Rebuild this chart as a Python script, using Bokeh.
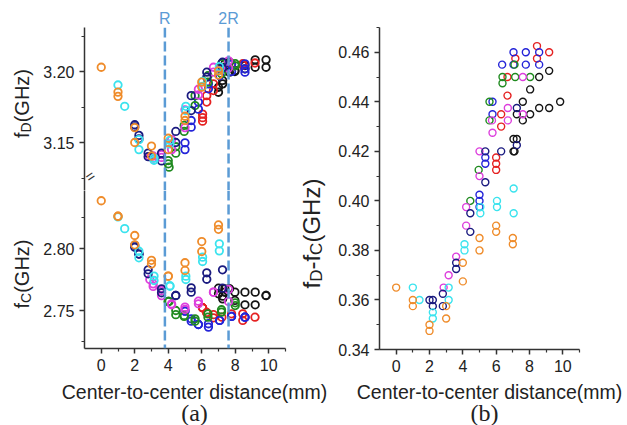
import math
from bokeh.plotting import figure
from bokeh.models import Range1d, FixedTicker, NumeralTickFormatter, Span, Label, ColumnDataSource
from bokeh.layouts import row, column
from bokeh.embed import file_html
from bokeh.resources import INLINE

# ---------------- data ----------------
# panel (a): distance (mm), f_D (GHz), f_C (GHz); panel (b): distance (mm), f_D - f_C (GHz)
orange_x = [0, 1, 1, 2, 2, 3, 3, 4, 4, 5, 5, 6, 6, 7, 7]
orange_fd = [3.203, 3.1855, 3.1825, 3.1605, 3.150, 3.1475, 3.1405, 3.153, 3.145, 3.1685, 3.1655, 3.1925, 3.189, 3.2005, 3.1975]
orange_fc = [2.8385, 2.826, 2.826, 2.8105, 2.803, 2.7905, 2.7875, 2.7777, 2.7777, 2.7885, 2.7823, 2.8056, 2.7976, 2.819, 2.8155]
orange_bx = [0, 1, 1, 2, 2, 3, 3, 4, 4, 5, 5, 6, 6, 7, 7]
orange_bv = [0.365, 0.36, 0.3575, 0.35, 0.3475, 0.3575, 0.3525, 0.375, 0.3675, 0.385, 0.38, 0.39, 0.3875, 0.385, 0.3825]

cyan_x = [1.0, 1.4, 2.25, 2.25, 3.15, 3.15, 4.1, 4.1, 5.05, 5.05, 6.05, 6.05, 7.05, 7.05]
cyan_fd = [3.1905, 3.1755, 3.152, 3.145, 3.139, 3.1375, 3.1515, 3.149, 3.1755, 3.1725, 3.193, 3.1895, 3.2035, 3.2005]
cyan_fc = [2.8255, 2.816, 2.7978, 2.7925, 2.7778, 2.7742, 2.770, 2.7695, 2.7777, 2.775, 2.793, 2.7895, 2.8038, 2.7981]
cyan_bx = [1.0, 1.4, 2.2, 2.2, 3.15, 3.15, 4.1, 4.1, 5.05, 5.05, 6.05, 6.05, 7.05, 7.05]
cyan_bv = [0.365, 0.36, 0.355, 0.3525, 0.365, 0.36, 0.3825, 0.38, 0.3975, 0.395, 0.40, 0.3975, 0.405, 0.395]

navy_x = [2.0, 2.0, 2.25, 2.25, 2.8, 2.8, 3.6, 3.6, 4.45, 4.45, 5.37, 5.37, 6.3, 6.3, 7.24, 7.24]
navy_fd = [3.1625, 3.161, 3.155, 3.1525, 3.1425, 3.140, 3.1425, 3.137, 3.1578, 3.150, 3.183, 3.1725, 3.1995, 3.196, 3.2065, 3.2025]
navy_fc = [2.8025, 2.801, 2.7955, 2.7955, 2.7828, 2.7796, 2.7675, 2.7643, 2.7621, 2.7621, 2.7683, 2.7648, 2.7804, 2.7752, 2.7828, 2.768]
navy_bx = [2.0, 2.2, 2.2, 2.8, 2.8, 3.6, 3.6, 4.45, 4.45, 5.35, 5.35, 6.3, 7.24, 7.24]
navy_bv = [0.36, 0.36, 0.3575, 0.3625, 0.3575, 0.375, 0.3725, 0.395, 0.3875, 0.42, 0.4075, 0.42, 0.4375, 0.4225]

magenta_x = [2.9, 3.1, 3.1, 3.6, 3.6, 4.2, 4.2, 5.0, 5.0, 5.8, 5.8, 6.7, 6.7, 7.6, 7.6]
magenta_fd = [3.140, 3.1405, 3.139, 3.1415, 3.1395, 3.152, 3.145, 3.173, 3.1605, 3.1875, 3.1835, 3.203, 3.1995, 3.2075, 3.2025]
magenta_fc = [2.775, 2.7715, 2.7694, 2.766, 2.762, 2.7554, 2.7546, 2.7527, 2.7508, 2.7575, 2.7554, 2.7648, 2.7648, 2.767, 2.7573]
magenta_bx = [2.85, 3.15, 3.6, 4.2, 4.2, 5.0, 5.0, 5.75, 5.78, 6.7, 6.7, 7.6, 7.6]
magenta_bv = [0.365, 0.37, 0.3775, 0.3975, 0.39, 0.42, 0.41, 0.4325, 0.4275, 0.4375, 0.4325, 0.45, 0.435]

green_x = [4.0, 4.0, 4.05, 4.45, 4.45, 4.95, 4.95, 5.6, 5.6, 6.37, 6.37, 7.18, 7.18, 8.0, 8.0]
green_fd = [3.1373, 3.135, 3.1326, 3.1425, 3.147, 3.162, 3.1578, 3.183, 3.176, 3.197, 3.1925, 3.2055, 3.1985, 3.2055, 3.204]
green_fc = [2.7573, 2.7573, 2.7573, 2.75, 2.7466, 2.746, 2.7452, 2.7433, 2.7414, 2.7473, 2.7446, 2.7506, 2.7487, 2.7562, 2.754]
green_bx = [4.45, 4.95, 5.6, 5.6, 6.38, 6.38, 7.1, 7.14, 8.04]
green_bv = [0.40, 0.4125, 0.44, 0.4325, 0.45, 0.4475, 0.455, 0.45, 0.45]

blue_x = [5.0, 5.0, 5.37, 5.37, 5.8, 5.8, 6.4, 6.4, 7.07, 7.07, 7.78, 7.78, 8.58, 8.58, 8.58]
blue_fd = [3.1498, 3.145, 3.1655, 3.1608, 3.1785, 3.1735, 3.1913, 3.1878, 3.202, 3.197, 3.205, 3.200, 3.2054, 3.2019, 3.1995]
blue_fc = [2.7495, 2.7495, 2.7433, 2.7414, 2.7387, 2.7387, 2.7393, 2.7366, 2.742, 2.742, 2.7452, 2.7452, 2.7446, 2.7446, 2.7446]
blue_bx = [5.0, 5.0, 5.0, 5.35, 5.35, 5.78, 5.78, 6.36, 7.04, 7.04, 7.78, 7.78, 8.58, 8.58]
blue_bv = [0.4025, 0.40, 0.3975, 0.4175, 0.415, 0.44, 0.435, 0.455, 0.46, 0.455, 0.46, 0.455, 0.46, 0.455]

red_x = [6.05, 6.05, 6.05, 6.3, 6.3, 6.7, 6.7, 7.2, 7.78, 8.45, 8.45, 9.18]
red_fd = [3.170, 3.1675, 3.165, 3.183, 3.1785, 3.1913, 3.1866, 3.2021, 3.2054, 3.2055, 3.2045, 3.206]
red_fc = [2.7522, 2.7522, 2.7522, 2.748, 2.7484, 2.7466, 2.7441, 2.7446, 2.7473, 2.7473, 2.742, 2.7446]
red_bx = [6.0, 6.0, 6.0, 6.3, 6.3, 6.68, 6.68, 7.15, 8.45, 8.45, 9.18]
red_bv = [0.4175, 0.415, 0.4125, 0.435, 0.43, 0.45, 0.4425, 0.4575, 0.4625, 0.4575, 0.46]

black_x = [7.0, 7.0, 7.25, 7.25, 7.38, 7.38, 7.65, 7.65, 7.98, 7.98, 8.58, 8.58, 9.19, 9.19, 9.84, 9.84]
black_fd = [3.1889, 3.1854, 3.1937, 3.1913, 3.2054, 3.203, 3.2066, 3.1995, 3.2007, 3.200, 3.2042, 3.2019, 3.2082, 3.203, 3.2082, 3.203]
black_fc = [2.768, 2.7635, 2.7616, 2.7594, 2.7675, 2.7648, 2.7675, 2.7675, 2.7648, 2.7581, 2.7648, 2.7546, 2.7648, 2.7546, 2.7621, 2.7621]
black_bx = [7.04, 7.04, 7.1, 7.24, 7.24, 7.6, 7.6, 8.04, 8.04, 8.58, 8.58, 9.18, 9.18, 9.84]
black_bv = [0.425, 0.42, 0.42, 0.435, 0.425, 0.44, 0.4325, 0.445, 0.435, 0.45, 0.4375, 0.4525, 0.4375, 0.44]

R_mm = 3.8
marker_lines = [R_mm, 2 * R_mm]
marker_texts = ["R", "2R"]

fd_ticks = [3.15, 3.20]
fd_minor = [3.125, 3.175, 3.225]
fc_ticks = [2.75, 2.80]
fc_minor = [2.725, 2.775, 2.825]
x_ticks = [0, 2, 4, 6, 8, 10]
x_minor = [1, 3, 5, 7, 9, 11]
b_ticks = [0.34, 0.36, 0.38, 0.40, 0.42, 0.44, 0.46]
b_minor = [0.35, 0.37, 0.39, 0.41, 0.43, 0.45, 0.47]

SERIES = [
    ("#151515", black_x, black_fd, black_fc, black_bx, black_bv),
    ("#E52222", red_x, red_fd, red_fc, red_bx, red_bv),
    ("#2424D8", blue_x, blue_fd, blue_fc, blue_bx, blue_bv),
    ("#1F8A1F", green_x, green_fd, green_fc, green_bx, green_bv),
    ("#DD3FDD", magenta_x, magenta_fd, magenta_fc, magenta_bx, magenta_bv),
    ("#1B1B80", navy_x, navy_fd, navy_fc, navy_bx, navy_bv),
    ("#3BE3EE", cyan_x, cyan_fd, cyan_fc, cyan_bx, cyan_bv),
    ("#EF8C2B", orange_x, orange_fd, orange_fc, orange_bx, orange_bv),
]

# ---------------- geometry (pixels) ----------------
TICK_FONT = "Liberation Sans"
TITLE_FONT = "Liberation Sans"
AX_COLOR = "#333333"
TXT_COLOR = "#222222"
DASH_COLOR = "#5B9BD5"

LA_W = 40
FA_W = 256
FA_LEFT = 44          # page x 84
FA_FRAME_W = 201      # 16.75 px per mm
FA_RIGHT = FA_W - FA_LEFT - FA_FRAME_W
LB_W = 36             # page x 296..332
FB_W = 295
FB_LEFT = 47          # page x 379
FB_FRAME_W = 200
FB_RIGHT = FB_W - FB_LEFT - FB_FRAME_W
TOTAL_W = LA_W + FA_W + LB_W + FB_W   # 627

R_H = 27              # strip with "R", "2R"
TOP_H = 163           # f_D panel: page y 27..190
BOT_H = 190           # f_C panel: page y 190..380, frame to 348
BOT_BORDER = 32
ROW_H = R_H + TOP_H + BOT_H   # 380
FRAME_TOP = 27
FRAME_BOT = 349
STRIP_H = 425 - ROW_H         # 45

fd_range = (3.20 - (R_H + TOP_H - 71) / 1420.0, 3.20 + (71 - R_H) / 1420.0)
fc_range = (2.80 - (348 - 248) / 1240.0, 2.80 + (248 - (R_H + TOP_H)) / 1240.0)


def style_axis(ax):
    ax.axis_line_color = AX_COLOR
    ax.axis_line_width = 1.5
    ax.major_tick_line_color = AX_COLOR
    ax.major_tick_line_width = 1.5
    ax.major_tick_out = 5
    ax.major_tick_in = 0
    ax.minor_tick_line_color = AX_COLOR
    ax.minor_tick_line_width = 1.2
    ax.minor_tick_out = 3
    ax.minor_tick_in = 0
    ax.major_label_standoff = 5
    ax.major_label_text_font = TICK_FONT
    ax.major_label_text_font_size = "16px"
    ax.major_label_text_color = TXT_COLOR


def base_fig(w, h, xr, yr, **kw):
    p = figure(width=w, height=h, x_range=Range1d(*xr), y_range=Range1d(*yr),
               output_backend="svg", toolbar_location=None, title=None, tools="", **kw)
    p.outline_line_color = None
    p.grid.visible = False
    p.background_fill_color = "white"
    p.border_fill_color = "white"
    return p


# ---- strip with R / 2R (frame aligned with panel (a)) ----
rstrip = base_fig(FA_W, R_H, (-1, 11), (0, R_H), x_axis_location=None, y_axis_location=None,
                  min_border_left=FA_LEFT, min_border_right=FA_RIGHT,
                  min_border_top=0, min_border_bottom=0)
for loc, txt in zip(marker_lines, marker_texts):
    rstrip.add_layout(Label(x=loc, y=R_H - 18, text=txt, text_font=TITLE_FONT, text_font_size="16px",
                            text_color=DASH_COLOR, text_align="center", text_baseline="middle"))

# ---- panel (a) top ----
fa_top = base_fig(FA_W, TOP_H, (-1, 11), fd_range, x_axis_location=None,
                  min_border_left=FA_LEFT, min_border_right=FA_RIGHT,
                  min_border_top=0, min_border_bottom=0)
fa_top.yaxis[0].ticker = FixedTicker(ticks=fd_ticks, minor_ticks=fd_minor)
fa_top.yaxis[0].formatter = NumeralTickFormatter(format="0.00")
style_axis(fa_top.yaxis[0])

# ---- panel (a) bottom ----
fa_bot = base_fig(FA_W, BOT_H, (-1, 11), fc_range,
                  min_border_left=FA_LEFT, min_border_right=FA_RIGHT,
                  min_border_top=0, min_border_bottom=BOT_BORDER)
fa_bot.yaxis[0].ticker = FixedTicker(ticks=fc_ticks, minor_ticks=fc_minor)
fa_bot.yaxis[0].formatter = NumeralTickFormatter(format="0.00")
fa_bot.xaxis[0].ticker = FixedTicker(ticks=x_ticks, minor_ticks=x_minor)
style_axis(fa_bot.yaxis[0])
style_axis(fa_bot.xaxis[0])

# axis break mark near the junction of the two f-scales
fa_top.add_layout(Label(x=-1, y=fd_range[0] + 12 / 1420.0, x_offset=2, text="=", angle=0.6,
                        text_font=TICK_FONT, text_font_size="15px", text_color=AX_COLOR,
                        text_align="left", text_baseline="middle"))

# ---- panel (b) ----
fb = base_fig(FB_W, ROW_H, (-1, 11), (0.34, 0.47),
              min_border_left=FB_LEFT, min_border_right=FB_RIGHT,
              min_border_top=FRAME_TOP, min_border_bottom=ROW_H - FRAME_BOT)
fb.yaxis[0].ticker = FixedTicker(ticks=b_ticks, minor_ticks=b_minor)
fb.yaxis[0].formatter = NumeralTickFormatter(format="0.00")
fb.xaxis[0].ticker = FixedTicker(ticks=x_ticks, minor_ticks=x_minor)
style_axis(fb.yaxis[0])
style_axis(fb.xaxis[0])

# dashed R / 2R lines
for p in (fa_top, fa_bot):
    for loc in marker_lines:
        p.add_layout(Span(location=loc, dimension="height", line_color=DASH_COLOR,
                          line_width=2.5, line_dash="10 4"))

# data markers
for color, xa, fd, fc, bx, bv in SERIES:
    fa_top.scatter(x="x", y="y", source=ColumnDataSource(dict(x=xa, y=fd)), marker="circle",
                   size=7.5, fill_color=None, line_color=color, line_width=1.8)
    fa_bot.scatter(x="x", y="y", source=ColumnDataSource(dict(x=xa, y=fc)), marker="circle",
                   size=7.5, fill_color=None, line_color=color, line_width=1.8)
    fb.scatter(x="x", y="y", source=ColumnDataSource(dict(x=bx, y=bv)), marker="circle",
               size=7, fill_color=None, line_color=color, line_width=1.4)

# ---------------- rotated y titles (in narrow label columns) ----------------
ARIAL_W = {"f": 0.278, "D": 0.722, "C": 0.722, "-": 0.333, "(": 0.333, "G": 0.778,
           "H": 0.722, "z": 0.5, ")": 0.333}


def text_w(s, size):
    return sum(ARIAL_W.get(ch, 0.556) for ch in s) * size


def label_column(w):
    # frame spans page y FRAME_TOP..FRAME_BOT, data y = FRAME_BOT - page y
    return base_fig(w, ROW_H, (0, w), (0, FRAME_BOT - FRAME_TOP),
                    x_axis_location=None, y_axis_location=None,
                    min_border_left=0, min_border_right=0,
                    min_border_top=FRAME_TOP, min_border_bottom=ROW_H - FRAME_BOT)


def vlabel(p, base_x, bottom_y, pieces, size, sub, shift):
    y = bottom_y
    for t, s in pieces:
        fs = sub if s else size
        p.add_layout(Label(x=base_x + (shift if s else 0), y=FRAME_BOT - y, text=t,
                           angle=math.pi / 2, text_font=TITLE_FONT, text_font_size=f"{fs}px",
                           text_color=TXT_COLOR, text_align="left", text_baseline="alphabetic"))
        y -= text_w(t, fs)


la = label_column(LA_W)
vlabel(la, 21, 137.5, [("f", False), ("D", True), ("(GHz)", False)], 20, 14, 4.5)
vlabel(la, 21, 308, [("f", False), ("C", True), ("(GHz)", False)], 20, 14, 4.5)

lb = label_column(LB_W)
vlabel(lb, 15, 288, [("f", False), ("D", True), ("-", False), ("f", False),
                     ("C", True), ("(GHz)", False)], 24, 17, 5)

# ---- bottom strip with x titles and panel tags ----
strip = base_fig(TOTAL_W, STRIP_H, (0, TOTAL_W), (0, STRIP_H), min_border=0,
                 x_axis_location=None, y_axis_location=None)
for cx in (194, 489):
    strip.add_layout(Label(x=cx, y=STRIP_H - 11, text="Center-to-center distance(mm)",
                           text_font=TITLE_FONT, text_font_size="19.5px", text_color=TXT_COLOR,
                           text_align="center", text_baseline="middle"))
for cx, tag in ((194, "(a)"), (484, "(b)")):
    strip.add_layout(Label(x=cx, y=STRIP_H - 32, text=tag, text_font="Liberation Serif",
                           text_font_size="24px", text_color=TXT_COLOR,
                           text_align="center", text_baseline="middle"))

layout = column(row(la, column(rstrip, fa_top, fa_bot), lb, fb), strip)

open("out.html", "w").write(file_html(layout, INLINE))
